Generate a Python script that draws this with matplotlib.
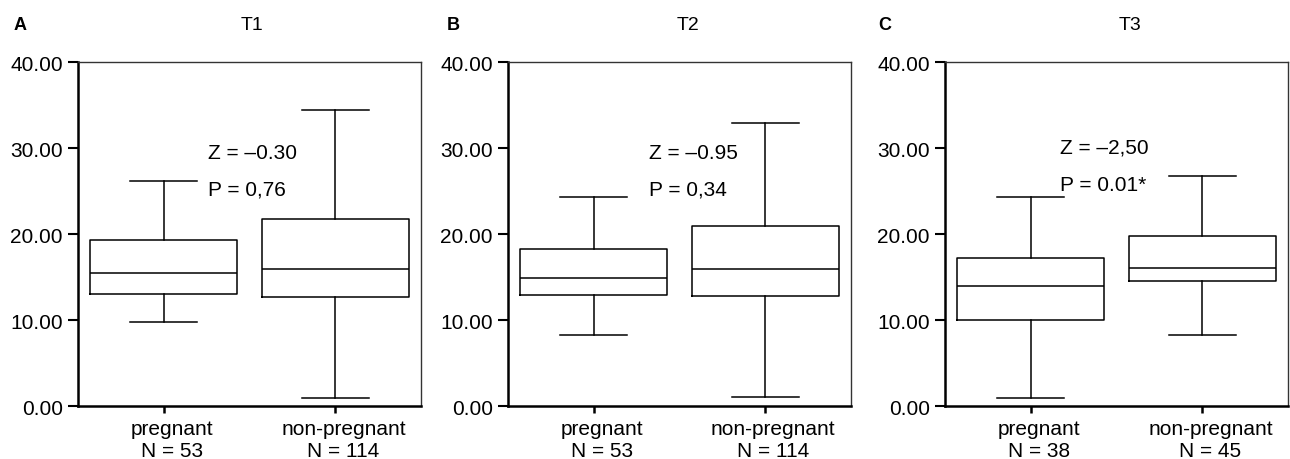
import matplotlib
matplotlib.use("Agg")
import matplotlib.pyplot as plt
import matplotlib.transforms as mtransforms

plt.rcParams['font.family'] = ['Liberation Sans', 'DejaVu Sans']

panels = ["A", "B", "C"]
titles = ["T1", "T2", "T3"]
groups = ["pregnant", "non-pregnant"]
n_counts = [[53, 114], [53, 114], [38, 45]]

# per panel: [pregnant, non-pregnant]
whis_low = [[9.8, 0.97], [8.3, 1.05], [0.93, 8.3]]
q1 = [[13.0, 12.7], [12.9, 12.8], [10.0, 14.6]]
median = [[15.5, 15.9], [14.95, 15.9], [14.0, 16.1]]
q3 = [[19.3, 21.7], [18.3, 20.9], [17.2, 19.8]]
whis_high = [[26.2, 34.4], [24.3, 32.9], [24.3, 26.8]]

z_text = ["Z = \u20130.30", "Z = \u20130.95", "Z = \u20132,50"]
p_text = ["P = 0,76", "P = 0,34", "P = 0.01*"]
text_x = [1.26, 1.32, 1.17]
z_y = [29.5, 29.5, 30.1]
p_y = [25.2, 25.2, 25.8]

fig = plt.figure(figsize=(12.9, 4.6), dpi=100)
lefts = [0.0605, 0.3938, 0.7326]
title_x = [252 / 1290, 688 / 1290, 1130 / 1290]
letter_x = [14 / 1290, 447 / 1290, 878 / 1290]

for i in range(3):
    ax = fig.add_axes([lefts[i], 0.115, 0.266, 0.748])
    stats = []
    for j in range(2):
        stats.append({"whislo": whis_low[i][j], "q1": q1[i][j], "med": median[i][j],
                      "q3": q3[i][j], "whishi": whis_high[i][j], "fliers": [],
                      "label": f"{groups[j]}\nN = {n_counts[i][j]}"})
    line = dict(color="black", linewidth=1.1)
    ax.bxp(stats, positions=[1, 2], widths=0.855, capwidths=0.39, showfliers=False,
           boxprops=line, whiskerprops=line, capprops=line, medianprops=line)
    ax.set_xlim(0.5, 2.5)
    ax.set_ylim(0, 40)
    ax.set_yticks([0, 10, 20, 30, 40])
    ax.set_yticklabels([f"{v:.2f}" for v in [0, 10, 20, 30, 40]])
    ax.tick_params(axis="y", labelsize=15, length=7, width=1.5, pad=4)
    ax.tick_params(axis="x", labelsize=15, length=5, width=1.8, pad=4)
    for lab in ax.get_xticklabels():
        lab.set_transform(lab.get_transform() +
                          mtransforms.ScaledTranslation(8 / 100, 0, fig.dpi_scale_trans))
    for s in ["left", "bottom"]:
        ax.spines[s].set_linewidth(1.8)
        ax.spines[s].set_color("black")
    for s in ["top", "right"]:
        ax.spines[s].set_linewidth(1.0)
        ax.spines[s].set_color("#333333")
    ax.text(text_x[i], z_y[i], z_text[i], fontsize=15, va="center", ha="left")
    ax.text(text_x[i], p_y[i], p_text[i], fontsize=15, va="center", ha="left")
    fig.text(title_x[i], 0.9435, titles[i], fontsize=14, va="center", ha="center")
    fig.text(letter_x[i], 0.9435, panels[i], fontsize=13, fontweight="bold",
             va="center", ha="left")

fig.savefig("out.png", dpi=100)
